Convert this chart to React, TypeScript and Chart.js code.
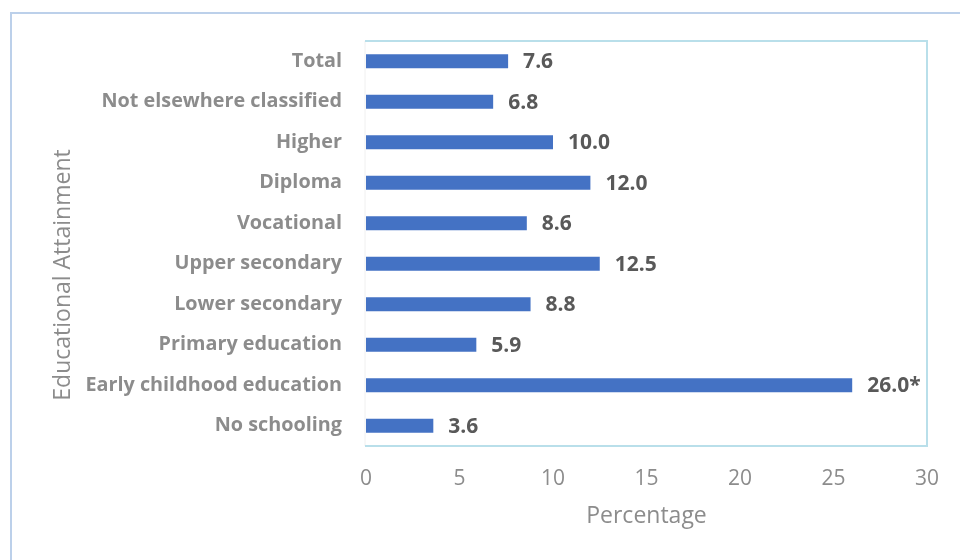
import React, { useEffect, useRef } from "react";
import { Chart, registerables } from "chart.js";

Chart.register(...registerables);

const categories = [
  "Total",
  "Not elsewhere classified",
  "Higher",
  "Diploma",
  "Vocational",
  "Upper secondary",
  "Lower secondary",
  "Primary education",
  "Early childhood education",
  "No schooling",
];
const values = [7.6, 6.8, 10.0, 12.0, 8.6, 12.5, 8.8, 5.9, 26.0, 3.6];
const valueLabels = ["7.6", "6.8", "10.0", "12.0", "8.6", "12.5", "8.8", "5.9", "26.0*", "3.6"];
const xTicks = [0, 5, 10, 15, 20, 25, 30];
const xTitle = "Percentage";
const yTitle = "Educational Attainment";

const FONT = "'Open Sans', 'Noto Sans', sans-serif";

const decorPlugin = {
  id: "decor",
  beforeDraw(chart: any) {
    const { ctx } = chart;
    ctx.save();
    ctx.strokeStyle = "#BCD0EA";
    ctx.lineWidth = 2;
    ctx.beginPath();
    ctx.moveTo(11, 600);
    ctx.lineTo(11, 13);
    ctx.lineTo(1000, 13);
    ctx.stroke();
    ctx.restore();
  },
  afterDatasetsDraw(chart: any) {
    const { ctx, chartArea } = chart;
    ctx.save();
    ctx.strokeStyle = "#F0F0F0";
    ctx.lineWidth = 1;
    ctx.beginPath();
    ctx.moveTo(chartArea.left - 1, chartArea.top);
    ctx.lineTo(chartArea.left - 1, chartArea.bottom);
    ctx.stroke();
    ctx.strokeStyle = "#B9DFEA";
    ctx.lineWidth = 2;
    ctx.beginPath();
    ctx.moveTo(chartArea.left - 1, chartArea.top);
    ctx.lineTo(chartArea.right, chartArea.top);
    ctx.lineTo(chartArea.right, chartArea.bottom);
    ctx.lineTo(chartArea.left - 1, chartArea.bottom);
    ctx.stroke();

    const meta = chart.getDatasetMeta(0);
    ctx.fillStyle = "#595959";
    ctx.font = `700 21px ${FONT}`;
    ctx.textBaseline = "middle";
    ctx.textAlign = "left";
    meta.data.forEach((bar: any, i: number) => {
      ctx.fillText(valueLabels[i], bar.x + 15, bar.y + 1);
    });

    ctx.fillStyle = "#8C8C8C";
    ctx.font = `400 23px ${FONT}`;
    ctx.textAlign = "center";
    ctx.fillText(xTitle, (chartArea.left + chartArea.right) / 2, 516);
    ctx.translate(63, 275);
    ctx.rotate(-Math.PI / 2);
    ctx.fillText(yTitle, 0, 0);
    ctx.restore();
  },
};

export default function App() {
  const ref = useRef<HTMLCanvasElement>(null);
  useEffect(() => {
    document.body.style.margin = "0";
    const chart = new Chart(ref.current!, {
      type: "bar",
      data: {
        labels: categories,
        datasets: [
          {
            data: values,
            backgroundColor: "#4472C4",
            borderWidth: 0,
            barPercentage: 0.35,
            categoryPercentage: 1,
          },
        ],
      },
      options: {
        indexAxis: "y",
        responsive: false,
        animation: false,
        layout: { padding: { left: 0, right: 33, top: 41, bottom: 0 } },
        plugins: { legend: { display: false }, tooltip: { enabled: false } },
        scales: {
          x: {
            min: 0,
            max: 30,
            afterBuildTicks: (s: any) => {
              s.ticks = xTicks.map((v) => ({ value: v }));
            },
            afterFit: (s: any) => {
              s.height = 114;
            },
            grid: { display: false, drawTicks: false },
            border: { display: false },
            ticks: {
              padding: 20,
              color: "#8C8C8C",
              font: { family: FONT, size: 21, weight: "400" as any },
            },
          },
          y: {
            afterFit: (s: any) => {
              s.width = 366;
            },
            grid: { display: false, drawTicks: false },
            border: { display: false },
            ticks: {
              padding: 24,
              color: "#8C8C8C",
              font: { family: FONT, size: 19.8, weight: "700" as any },
            },
          },
        },
      },
      plugins: [decorPlugin],
    });
    return () => chart.destroy();
  }, []);
  return (
    <div style={{ position: "absolute", left: 0, top: 0, width: 960, height: 560, background: "#fff" }}>
      <canvas ref={ref} width={960} height={560} />
    </div>
  );
}
